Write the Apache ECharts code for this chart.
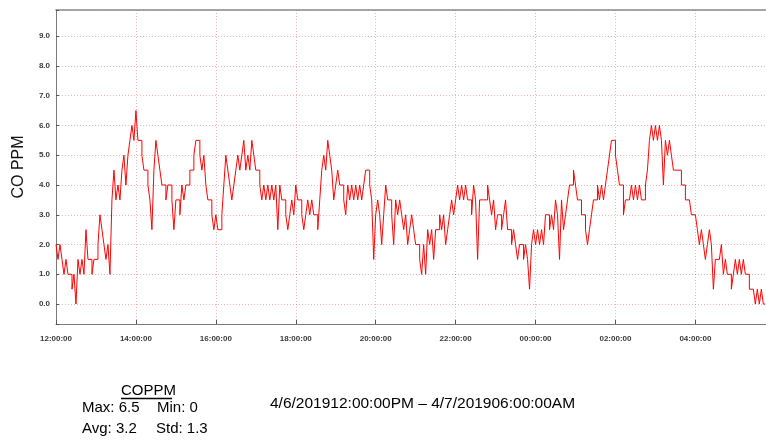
<!DOCTYPE html>
<html>
<head>
<meta charset="utf-8">
<script src="https://cdn.jsdelivr.net/npm/echarts@6.0.0/dist/echarts.min.js"></script>
<style>
html,body{margin:0;padding:0;background:#fff;}
#chart{width:766px;height:441px;}
</style>
</head>
<body>
<div id="chart"></div>
<script>
// CO PPM readings, one value every 3 minutes, grouped by hour (from 12:00 on 4/6/2019)
const stepMinutes = 3;
const h12 = [2.0,1.5,2.0,1.5,1.0,1.5,1.0,1.0,0.5,1.0,0.0,1.5,1.0,1.5,1.0,2.5,1.5,1.5,1.0,1.5];
const h13 = [1.5,2.0,3.0,2.5,2.0,1.5,2.0,1.0,3.5,4.5,3.5,4.0,3.5,4.5,5.0,4.0,5.0,5.5,6.0,5.5];
const h14 = [6.5,5.5,5.5,5.0,4.5,4.5,4.0,3.5,2.5,4.5,5.5,5.0,4.5,4.0,4.0,3.5,4.0,4.0,3.5,2.5];
const h15 = [3.5,3.5,3.0,4.0,3.5,4.0,4.0,4.5,4.5,5.0,5.5,5.5,5.0,4.5,5.0,4.0,3.5,3.5,3.0,2.5];
const h16 = [3.0,2.5,2.5,3.0,4.0,5.0,4.5,4.0,3.5,4.0,4.5,5.0,4.5,5.0,5.5,4.5,5.0,4.5,5.5,5.0];
const h17 = [4.5,4.5,4.0,3.5,4.0,3.5,4.0,3.5,4.0,3.5,4.0,2.5,4.0,3.5,3.5,3.0,2.5,3.0,3.5,3.0];
const h18 = [4.0,3.5,3.5,3.0,2.5,3.0,3.5,3.0,3.5,3.0,3.0,2.5,3.5,4.5,5.0,4.5,5.5,5.0,4.5,3.5];
const h19 = [4.0,4.5,4.0,4.0,3.5,3.0,4.0,3.5,4.0,3.5,4.0,3.5,4.0,3.5,4.0,4.5,4.5,4.0,3.5,1.5];
const h20 = [3.0,3.5,3.0,2.0,3.0,4.0,3.5,3.5,3.0,2.0,3.5,3.0,3.5,3.0,2.5,3.0,2.0,2.5,3.0,2.5];
const h21 = [2.0,2.0,1.5,1.0,2.0,1.0,2.5,2.0,2.5,1.5,2.5,2.5,3.0,2.5,3.0,2.0,2.5,3.0,3.5,3.0];
const h22 = [3.5,4.0,3.5,4.0,3.5,4.0,3.5,3.5,3.0,4.0,3.5,1.5,3.5,3.5,3.5,3.5,4.0,3.5,3.0,3.5];
const h23 = [2.5,3.0,3.0,2.5,3.0,3.5,2.5,2.5,2.0,2.5,2.0,1.5,2.0,2.0,1.5,2.0,1.5,0.5,2.0,2.5];
const h00 = [2.0,2.5,2.0,2.5,2.0,3.0,3.0,2.5,3.0,2.5,3.5,3.0,1.5,3.5,2.5,3.0,3.5,4.0,4.0,4.5];
const h01 = [4.0,3.5,3.5,3.0,3.0,2.5,2.0,2.5,3.0,3.5,3.5,4.0,3.5,4.0,3.5,4.0,4.5,5.0,5.5,5.5];
const h02 = [5.0,4.5,4.0,4.0,3.0,3.5,3.5,3.5,4.0,3.5,4.0,3.5,4.0,3.5,3.5,4.0,4.5,5.5,6.0,5.5];
const h03 = [6.0,5.5,6.0,5.5,4.0,5.5,5.0,5.5,5.0,4.5,4.5,4.5,4.5,4.0,4.0,3.5,3.5,3.5,3.0,3.0];
const h04 = [3.0,2.5,2.0,2.5,2.0,1.5,2.0,2.5,2.0,0.5,1.5,1.5,1.5,2.0,1.0,1.5,1.0,1.0,0.5,1.0];
const h05 = [1.5,1.0,1.5,1.0,1.5,1.0,1.0,0.5,0.5,0.5,0.0,0.5,0.0,0.5,0.0,0.0];

const xTickLabels = ['12:00:00','14:00:00','16:00:00','18:00:00','20:00:00','22:00:00','00:00:00','02:00:00','04:00:00'];
const seriesName = 'COPPM';
const axisName = 'CO PPM';
const statLabels = ['Max: 6.5', 'Min: 0', 'Avg: 3.2', 'Std: 1.3'];
const rangeLabel = '4/6/201912:00:00PM \u2013 4/7/201906:00:00AM';

const values = [].concat(h12,h13,h14,h15,h16,h17,h18,h19,h20,h21,h22,h23,h00,h01,h02,h03,h04,h05);
const data = values.map((v, i) => [i * stepMinutes, v]);

const X_MAX = 1066;
const FONT = '"Liberation Sans", Arial, sans-serif';
const gridColor = 'rgba(215,120,120,0.55)';

const chart = echarts.init(document.getElementById('chart'), null, {renderer: 'canvas'});
chart.setOption({
  animation: false,
  backgroundColor: '#ffffff',
  grid: {left: 56, top: 10, right: 0, bottom: 117, containLabel: false, outerBoundsMode: 'none'},
  xAxis: [{
    type: 'value', min: 0, max: X_MAX, interval: 120,
    axisLine: {show: true, onZero: false, lineStyle: {color: '#7a7a7a', width: 1}},
    axisTick: {show: true, inside: true, length: 4, lineStyle: {color: '#555'}},
    axisLabel: {
      margin: 11, fontSize: 8, fontWeight: 'bold', color: '#3a3a3a', fontFamily: FONT,
      showMaxLabel: false,
      formatter: v => xTickLabels[Math.round(v / 120)] || ''
    },
    splitLine: {show: true, lineStyle: {color: gridColor, type: [1, 2], width: 1}}
  }, {
    type: 'value', min: 0, max: X_MAX, position: 'top',
    axisLine: {show: true, onZero: false, lineStyle: {color: '#8a8a8a', width: 1.5}},
    axisTick: {show: false}, axisLabel: {show: false}, splitLine: {show: false}
  }],
  yAxis: {
    type: 'value', min: -0.67, max: 9.88, splitNumber: 10, minInterval: 1, maxInterval: 1,
    name: axisName, nameLocation: 'middle', nameGap: 29, nameRotate: 90,
    nameTextStyle: {fontSize: 16, color: '#111', fontFamily: FONT},
    axisLine: {show: true, onZero: false, lineStyle: {color: '#7a7a7a', width: 1}},
    axisTick: {show: true, inside: true, length: 3, lineStyle: {color: '#555'}},
    axisLabel: {
      margin: 6, fontSize: 8, fontWeight: 'bold', color: '#3a3a3a', fontFamily: FONT,
      formatter: v => (Math.abs(v - Math.round(v)) < 1e-6 ? v.toFixed(1) : '')
    },
    splitLine: {show: true, lineStyle: {color: gridColor, type: [1, 2], width: 1}}
  },
  series: [{
    name: seriesName, type: 'line', data: data, step: 'end',
    showSymbol: false, symbol: 'none',
    lineStyle: {color: '#ff0000', width: 1},
    xAxisIndex: 0
  }],
  graphic: [
    {type: 'text', left: 121, top: 383, style: {text: seriesName, fontSize: 15, fontFamily: FONT, fill: '#000'}},
    {type: 'line', shape: {x1: 121, y1: 398.5, x2: 172, y2: 398.5}, style: {stroke: '#000', lineWidth: 1.5}},
    {type: 'text', left: 82, top: 400, style: {text: statLabels[0], fontSize: 15, fontFamily: FONT, fill: '#000'}},
    {type: 'text', left: 157, top: 400, style: {text: statLabels[1], fontSize: 15, fontFamily: FONT, fill: '#000'}},
    {type: 'text', left: 82, top: 421, style: {text: statLabels[2], fontSize: 15, fontFamily: FONT, fill: '#000'}},
    {type: 'text', left: 156, top: 421, style: {text: statLabels[3], fontSize: 15, fontFamily: FONT, fill: '#000'}},
    {type: 'text', left: 270, top: 396, style: {text: rangeLabel, fontSize: 15.5, fontFamily: FONT, fill: '#000'}}
  ]
});
</script>
</body>
</html>
